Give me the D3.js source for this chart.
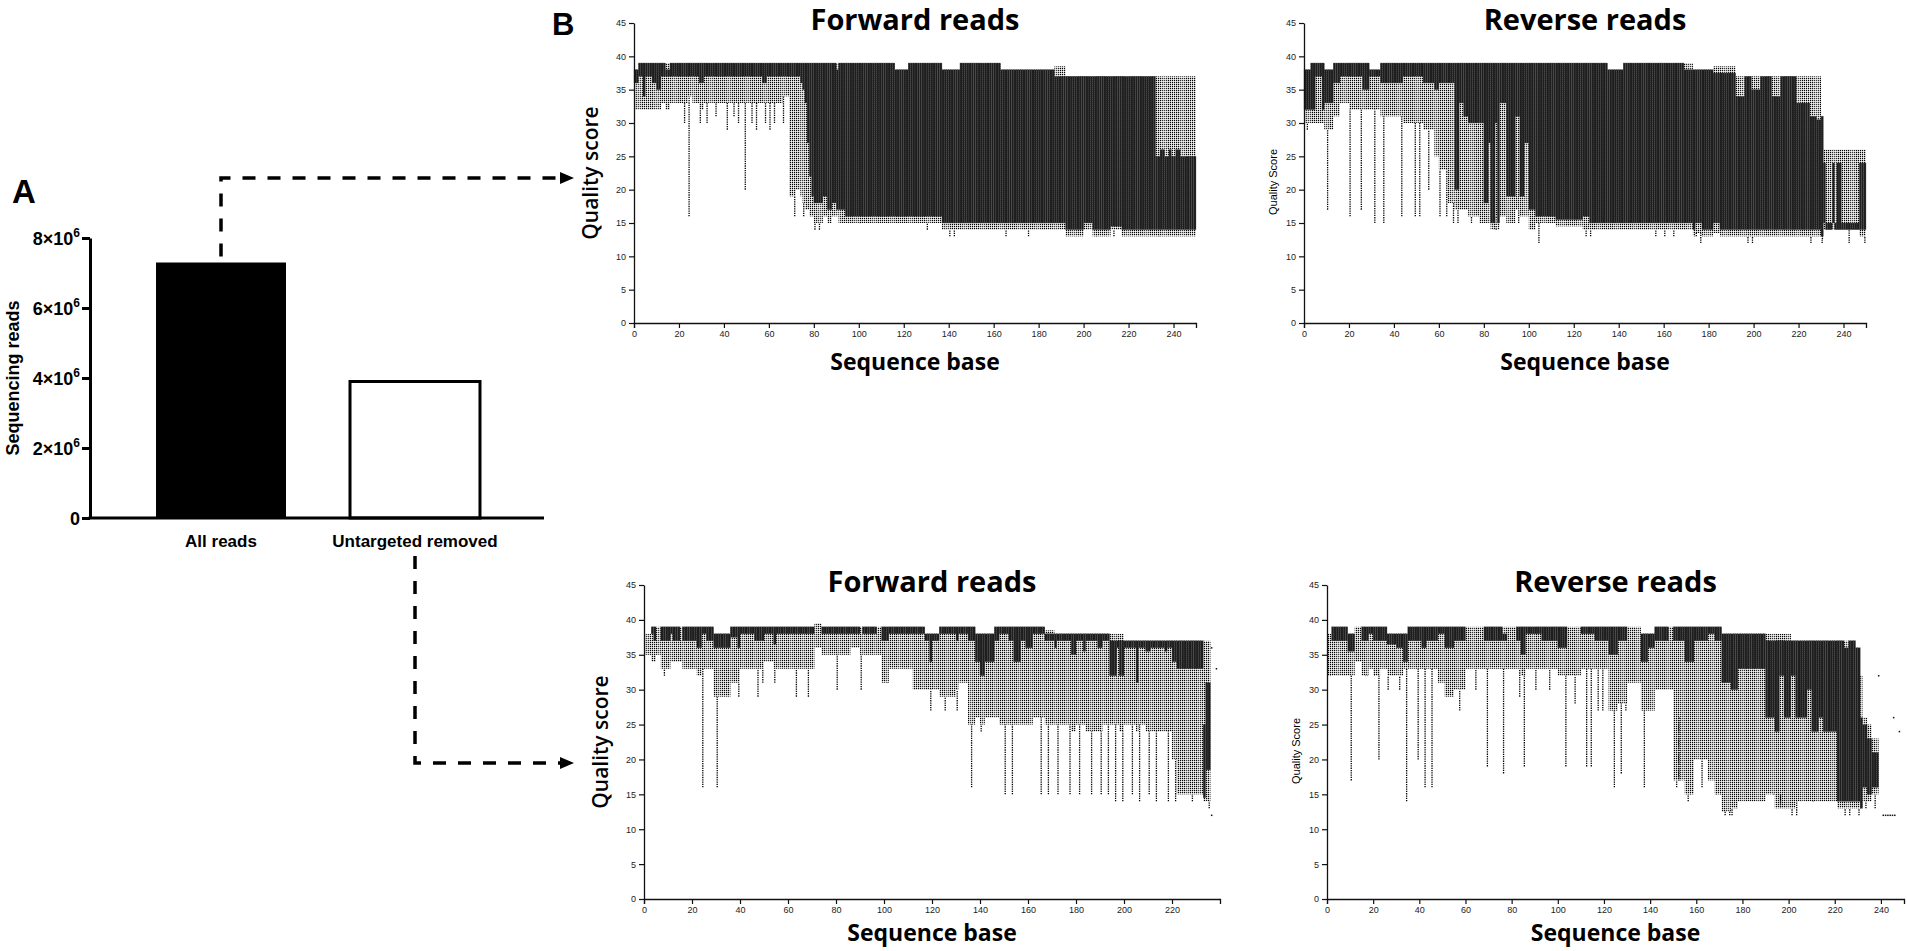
<!DOCTYPE html>
<html>
<head>
<meta charset="utf-8">
<script src="https://cdn.jsdelivr.net/npm/d3@7"></script>
<style>
  body { margin: 0; background: #fff; }
</style>
</head>
<body>
<svg id="fig" width="1907" height="951"></svg>
<script>
// ---- panel A: bar chart ----
var barCategories = ["All reads", "Untargeted removed"];
var barValues = [7.3e6, 3.9e6];
var barTicks = [0, 2e6, 4e6, 6e6, 8e6];

// ---- panel B: per-base quality plots ----
var qualTicks = [0, 5, 10, 15, 20, 25, 30, 35, 40, 45];
var baseTicks = [0, 20, 40, 60, 80, 100, 120, 140, 160, 180, 200, 220, 240];
var baseTicksShort = [0, 20, 40, 60, 80, 100, 120, 140, 160, 180, 200, 220];

// box runs: [fromBase, toBase, whiskerTop, boxTop, boxBottom, stippleBottom]
var fwdAllBoxes = [
  [0, 2, 38, 38, 36, 32], [2, 4, 39, 39, 37, 32], [4, 5, 39, 39, 34, 32], [5, 8, 39, 39, 37, 32],
  [8, 10, 39, 39, 36, 32], [10, 12, 39, 39, 35, 32], [12, 14, 39, 39, 37, 33], [14, 16, 39, 38, 37, 32],
  [16, 24, 39, 39, 37, 33], [24, 26, 39, 39, 37, 34], [26, 29, 39, 39, 37, 33], [29, 31, 39, 39, 36, 32],
  [31, 57, 39, 39, 37, 33], [57, 59, 39, 39, 36, 33], [59, 66, 39, 39, 37, 33], [66, 69, 39, 39, 37, 34],
  [69, 72, 39, 39, 37, 19], [72, 74, 39, 39, 37, 20], [74, 75, 39, 39, 36, 19], [75, 76, 39, 39, 35, 18],
  [76, 77, 39, 39, 33, 17], [77, 78, 39, 39, 27, 17], [78, 79, 39, 39, 22, 16], [79, 80, 39, 39, 19, 16],
  [80, 84, 39, 39, 18, 15], [84, 86, 39, 39, 19, 16], [86, 88, 39, 39, 17, 15], [88, 90, 39, 39, 18, 16],
  [90, 91, 39, 38, 17, 16], [91, 94, 39, 39, 17, 15], [94, 116, 39, 39, 16, 15], [116, 122, 38, 38, 16, 15],
  [122, 137, 39, 39, 16, 15], [137, 145, 38, 38, 15, 14], [145, 163, 39, 39, 15, 14], [163, 187, 38, 38, 15, 14],
  [187, 192, 38.5, 37, 15, 14], [192, 200, 37, 37, 14, 13], [200, 204, 37, 37, 15, 14], [204, 212, 37, 37, 14, 13],
  [212, 217, 37, 37, 14.5, 14], [217, 232, 37, 37, 14, 13], [232, 234, 37, 25, 14, 13], [234, 236, 37, 26, 14, 13],
  [236, 238, 37, 25, 14, 13], [238, 239, 37, 26, 14, 13], [239, 241, 37, 25, 14, 13], [241, 243, 37, 26, 14, 13],
  [243, 250, 37, 25, 14, 13]
];
// long whiskers: [base, minimum]
var fwdAllWhiskers = [
  [22, 30], [24, 16], [29, 30], [32, 30], [36, 31], [41, 29], [44, 31], [46, 30], [49, 20], [52, 30],
  [54, 29], [58, 30], [60, 29], [62, 30], [66, 30], [71, 16], [75, 16], [80, 14], [82, 14], [100, 15],
  [130, 14], [140, 13], [142, 13], [165, 13], [175, 13], [205, 13], [213, 13], [233, 13]
];
var fwdAllDots = [];

var revAllBoxes = [
  [0, 3, 38, 38, 32, 30], [3, 5, 39, 39, 32, 30], [5, 8, 39, 39, 37, 30], [8, 9, 39, 39, 32, 30],
  [9, 13, 38, 38, 33, 29], [13, 16, 39, 39, 36, 31], [16, 20, 39, 39, 37, 33], [20, 26, 39, 39, 37, 32],
  [26, 29, 39, 39, 35, 32], [29, 34, 38, 38, 37, 32], [34, 44, 39, 39, 36, 31], [44, 53, 39, 39, 37, 30],
  [53, 58, 39, 39, 36, 29], [58, 60, 39, 39, 35, 25], [60, 64, 39, 39, 36, 23], [64, 67, 39, 39, 36, 18],
  [67, 69, 39, 39, 20, 17], [69, 71, 39, 39, 33, 17], [71, 73, 39, 39, 31, 17], [73, 78, 39, 39, 30, 16],
  [78, 80, 39, 39, 30, 15], [80, 82, 39, 39, 18, 15], [82, 83, 39, 39, 27, 15], [83, 85, 39, 39, 15, 14],
  [85, 86, 39, 39, 30, 16], [86, 87, 39, 39, 15, 14], [87, 90, 39, 39, 33, 16], [90, 94, 39, 39, 19, 15],
  [94, 96, 39, 39, 31, 17], [96, 98, 39, 39, 19, 16], [98, 100, 39, 39, 27, 16], [100, 103, 39, 39, 17, 14],
  [103, 112, 39, 39, 16, 15], [112, 124, 39, 39, 15.5, 14.5], [124, 127, 39, 39, 16, 14], [127, 135, 39, 39, 15, 14],
  [135, 142, 38, 38, 15, 14], [142, 169, 39, 39, 15, 14], [169, 173, 39, 38, 15, 14], [173, 174, 38, 38, 14, 13],
  [174, 177, 38, 38, 15, 13.5], [177, 182, 38, 38, 14, 13], [182, 185, 38.5, 37.5, 15, 13.5], [185, 192, 38.5, 37.5, 14, 13],
  [192, 196, 37, 34, 14, 13], [196, 199, 37, 37, 14, 13], [199, 203, 37, 35, 14, 13], [203, 208, 37, 37, 14, 13],
  [208, 212, 37, 34, 14, 13], [212, 219, 37, 37, 14, 13], [219, 225, 37, 33, 14, 13], [225, 228, 37, 31, 14, 13],
  [228, 230, 37, 30.5, 14, 13], [230, 231, 31, 31, 13, 12.5], [231, 232, 26, 24, 15, 14], [232, 235, 26, 15, 14, 14],
  [235, 236, 26, 24, 15, 14], [236, 237, 26, 15, 14, 14], [237, 239, 26, 24, 14, 14], [239, 247, 26, 15, 14, 14],
  [247, 250, 26, 24, 14, 13]
];
var revAllWhiskers = [
  [1, 29], [10, 17], [20, 16], [25, 17], [31, 15], [35, 15], [43, 16], [49, 16], [51, 16], [55, 20],
  [60, 16], [63, 16], [66, 15], [68, 15], [74, 15], [85, 14], [95, 15], [104, 12], [125, 13], [127, 13],
  [156, 13], [160, 13], [164, 13], [174, 13], [176, 12], [197, 12], [199, 12], [225, 12], [230, 12], [242, 12], [249, 12]
];
var revAllDots = [];

var fwdUntBoxes = [
  [0, 3, 38, 38, 38, 35], [3, 4, 39, 39, 38, 34], [4, 5, 39, 39, 37, 34], [5, 7, 39, 39, 39, 35],
  [7, 11, 39, 39, 37, 33], [11, 12, 39, 39, 38, 34], [12, 15, 39, 39, 37, 34], [15, 16, 39, 39, 39, 34],
  [16, 22, 39, 39, 37, 33], [22, 24, 39, 39, 36, 32], [24, 26, 39, 39, 38, 33], [26, 29, 39, 39, 37, 33],
  [29, 36, 38, 38, 36, 29], [36, 39, 39, 39, 37.5, 31], [39, 40, 39, 39, 36, 31], [40, 46, 39, 39, 38, 33],
  [46, 50, 39, 39, 37, 33], [50, 54, 39, 39, 38, 34], [54, 55, 39, 39, 36.5, 33], [55, 71, 39, 39, 38, 33],
  [71, 74, 39.5, 39.5, 39.5, 36], [74, 86, 39, 39, 38, 35], [86, 90, 39, 39, 38, 36], [90, 91, 39, 39, 39, 35],
  [91, 97, 39, 39, 38, 35], [97, 99, 39, 39, 39, 35], [99, 102, 39, 39, 37, 31], [102, 112, 39, 39, 38, 33],
  [112, 117, 39, 39, 38, 30], [117, 119, 38, 38, 37, 30], [119, 120, 38, 38, 34, 30], [120, 123, 38, 38, 37, 30],
  [123, 130, 39, 39, 38, 29], [130, 131, 39, 39, 37, 30], [131, 135, 39, 39, 38, 31], [135, 138, 39, 39, 37, 25],
  [138, 140, 38, 38, 34, 26], [140, 142, 38, 38, 32, 25], [142, 146, 38, 38, 34, 26], [146, 148, 39, 39, 37, 26],
  [148, 152, 39, 39, 38, 25], [152, 154, 39, 39, 37, 25], [154, 157, 39, 39, 34, 25], [157, 159, 39, 39, 37, 25],
  [159, 162, 39, 39, 36, 25], [162, 167, 39, 39, 38, 26], [167, 171, 38.5, 38, 37, 25], [171, 172, 38, 38, 36, 25],
  [172, 178, 38, 38, 37, 25], [178, 180, 38, 38, 35, 24], [180, 183, 38, 38, 37, 25], [183, 184, 38, 38, 35.5, 25],
  [184, 189, 38, 38, 37, 24], [189, 191, 38, 38, 36, 24], [191, 194, 38, 38, 37, 25], [194, 197, 38, 37, 32, 25],
  [197, 198, 38, 37, 36, 25], [198, 200, 38, 37, 32, 24], [200, 205, 37, 37, 36, 25], [205, 206, 37, 37, 31, 24],
  [206, 209, 37, 37, 36, 25], [209, 211, 37, 37, 35.5, 24], [211, 217, 37, 37, 36, 24], [217, 218, 37, 37, 35.5, 24],
  [218, 220, 37, 37, 36, 24], [220, 222, 37, 37, 34, 20], [222, 233, 37, 37, 33, 15], [233, 234, 37, 25, 14.5, 14],
  [234, 236, 37, 31, 18.5, 14]
];
var fwdUntWhiskers = [
  [2, 35], [8, 32], [24, 16], [30, 16], [39, 29], [47, 29], [49, 31], [54, 31], [63, 29], [68, 29],
  [80, 30], [90, 30], [101, 31], [119, 27], [125, 27], [130, 27], [136, 16], [140, 24], [150, 15], [153, 15],
  [165, 15], [168, 15], [172, 15], [177, 15], [181, 15], [186, 15], [190, 15], [193, 15], [196, 14], [199, 14],
  [203, 15], [206, 14], [210, 15], [213, 14], [218, 14], [221, 14], [228, 14], [235, 13]
];
var fwdUntDots = [[236.5, 36], [238.5, 33], [236.5, 12]];

var revUntBoxes = [
  [0, 2, 38, 38, 38, 32], [2, 9, 39, 39, 37, 32], [9, 12, 38, 38, 35.5, 32], [12, 15, 39, 39, 39, 34],
  [15, 18, 39, 39, 37, 32], [18, 20, 39, 39, 38, 33], [20, 23, 39, 39, 37, 32], [23, 26, 39, 39, 37, 33],
  [26, 30, 38, 38, 36.5, 32], [30, 33, 38, 38, 36, 32], [33, 35, 38, 38, 34, 33], [35, 41, 39, 39, 37, 33],
  [41, 43, 39, 39, 36, 33], [43, 48, 39, 39, 37, 33], [48, 51, 39, 39, 38, 31], [51, 55, 39, 39, 36, 29],
  [55, 60, 39, 39, 37, 30], [60, 68, 39, 39, 39, 33], [68, 76, 39, 39, 37, 33], [76, 78, 39, 38, 37, 33],
  [78, 82, 39, 39, 39, 33], [82, 84, 39, 39, 37, 33], [84, 86, 39, 39, 35, 32], [86, 93, 39, 39, 38, 33],
  [93, 100, 39, 39, 37, 33], [100, 104, 39, 39, 36, 32], [104, 110, 39, 39, 39, 32], [110, 116, 39, 39, 38, 33],
  [116, 122, 39, 39, 37, 33], [122, 126, 39, 39, 35, 27], [126, 130, 39, 39, 37, 28], [130, 136, 39, 39, 39, 31],
  [136, 139, 38, 38, 34, 27], [139, 142, 38, 38, 36, 27], [142, 148, 39, 39, 37, 30], [148, 150, 39, 39, 39, 30],
  [150, 155, 39, 39, 37, 17], [155, 159, 39, 39, 34, 15], [159, 165, 39, 39, 37, 20], [165, 168, 39, 39, 38, 17],
  [168, 171, 39, 39, 37, 15], [171, 175, 38, 38, 31, 12.5], [175, 178, 38, 38, 30, 13], [178, 190, 38, 38, 33, 14],
  [190, 194, 38, 37, 26, 15], [194, 196, 38, 37, 24, 13], [196, 198, 38, 37, 32, 13], [198, 201, 38, 37, 26, 13],
  [201, 203, 37, 37, 32, 13], [203, 208, 37, 37, 26, 14], [208, 210, 37, 37, 30, 14], [210, 213, 37, 37, 24, 14],
  [213, 215, 37, 37, 26, 14], [215, 221, 37, 37, 24, 14], [221, 224, 37, 37, 14, 13], [224, 226, 37, 36, 14, 13],
  [226, 229, 37, 37, 14, 13], [229, 231, 36, 36, 14, 13], [231, 232, 32, 26, 13, 13], [232, 234, 26, 25, 16, 14],
  [234, 236, 25, 23, 15, 14], [236, 239, 23, 21, 16, 15]
];
var revUntWhiskers = [
  [1, 32], [10, 17], [16, 32], [17, 32], [20, 32], [22, 20], [26, 30], [31, 30], [34, 14], [39, 20],
  [42, 16], [45, 16], [57, 27], [64, 30], [69, 19], [76, 18], [83, 29], [85, 19], [90, 30], [96, 30],
  [103, 19], [107, 28], [112, 19], [114, 19], [117, 27], [119, 27], [124, 16], [127, 18], [129, 27], [137, 16],
  [151, 16], [152, 26], [156, 14], [157, 15], [162, 16], [168, 15], [170, 15], [172, 12], [174, 12], [175, 12],
  [193, 15], [196, 15], [201, 12], [203, 12], [210, 14], [224, 12], [226, 12], [230, 12], [233, 13], [237, 13]
];
var revUntDots = [
  [241, 12], [242, 12], [243, 12], [244, 12], [245, 12], [246, 12], [239, 32], [245.5, 26], [248, 24]
];

var svg = d3.select("#fig");
var sansBold = "'Liberation Sans', Arial, sans-serif";
var titleFont = "'Open Sans', sans-serif";

var defs = svg.append("defs");
var pat = defs.append("pattern")
    .attr("id", "stip")
    .attr("patternUnits", "userSpaceOnUse")
    .attr("width", 2)
    .attr("height", 2);
pat.append("rect").attr("width", 2).attr("height", 2).attr("fill", "#fff");
pat.append("rect").attr("width", 1.25).attr("height", 1.25).attr("fill", "#000");

// ================= A =================
var yBar = d3.scaleLinear().domain([0, 8e6]).range([518, 238]);
var xBar = d3.scaleBand().domain(barCategories).range([124, 512]).paddingInner(0.33).paddingOuter(0.165);

svg.append("text")
    .attr("x", 12).attr("y", 203)
    .attr("font-family", sansBold).attr("font-weight", "bold").attr("font-size", 33)
    .text("A");

svg.selectAll(".bar")
    .data(barValues)
    .enter().append("rect")
    .attr("x", function(d, i) { return xBar(barCategories[i]); })
    .attr("width", xBar.bandwidth())
    .attr("y", function(d) { return yBar(d); })
    .attr("height", function(d) { return yBar(0) - yBar(d); })
    .attr("fill", function(d, i) { return i === 0 ? "#000" : "#fff"; })
    .attr("stroke", "#000")
    .attr("stroke-width", function(d, i) { return i === 0 ? 0 : 3; });

var yAxisA = svg.append("g")
    .attr("transform", "translate(90,0)")
    .call(d3.axisLeft(yBar).tickValues(barTicks).tickSize(8).tickSizeOuter(0).tickFormat(""));
yAxisA.select(".domain").attr("stroke-width", 3);
yAxisA.selectAll(".tick line").attr("stroke-width", 3);
yAxisA.selectAll(".tick text").remove();
yAxisA.selectAll(".tick").each(function(d) {
    var t = d3.select(this).append("text")
        .attr("x", -10).attr("dy", "0.36em")
        .attr("text-anchor", "end")
        .attr("fill", "#000")
        .attr("font-family", sansBold).attr("font-weight", "bold").attr("font-size", 18);
    if (d === 0) {
        t.text("0");
    } else {
        t.append("tspan").text((d / 1e6) + "×10");
        t.append("tspan").attr("dy", -8).attr("font-size", 12).text("6");
    }
});

svg.append("line")
    .attr("x1", 88.5).attr("x2", 544)
    .attr("y1", yBar(0)).attr("y2", yBar(0))
    .attr("stroke", "#000").attr("stroke-width", 3);

svg.selectAll(".catlab")
    .data(barCategories)
    .enter().append("text")
    .attr("x", function(d) { return xBar(d) + xBar.bandwidth() / 2; })
    .attr("y", 547)
    .attr("text-anchor", "middle")
    .attr("font-family", sansBold).attr("font-weight", "bold").attr("font-size", 17)
    .text(function(d) { return d; });

svg.append("text")
    .attr("transform", "translate(19,378) rotate(-90)")
    .attr("text-anchor", "middle")
    .attr("font-family", sansBold).attr("font-weight", "bold").attr("font-size", 18)
    .text("Sequencing reads");

// dashed connectors
var c1x = xBar(barCategories[0]) + xBar.bandwidth() / 2;
var c2x = xBar(barCategories[1]) + xBar.bandwidth() / 2;
var arrowTip = 574;
svg.append("path")
    .attr("d", "M" + c1x + "," + (yBar(barValues[0]) - 6) + " V178 H" + (arrowTip - 12))
    .attr("fill", "none").attr("stroke", "#000").attr("stroke-width", 3.5)
    .attr("stroke-dasharray", "13,12");
svg.append("path")
    .attr("d", "M" + c2x + ",556 V763 H" + (arrowTip - 12))
    .attr("fill", "none").attr("stroke", "#000").attr("stroke-width", 3.5)
    .attr("stroke-dasharray", "13,12");
[178, 763].forEach(function(yy) {
    svg.append("path")
        .attr("d", "M" + (arrowTip - 14) + "," + (yy - 6) + " L" + arrowTip + "," + yy + " L" + (arrowTip - 14) + "," + (yy + 6) + "Z")
        .attr("fill", "#000");
});

// ================= B =================
svg.append("text")
    .attr("x", 552).attr("y", 35)
    .attr("font-family", sansBold).attr("font-weight", "bold").attr("font-size", 31)
    .text("B");

var panels = [
    { title: "Forward reads", boxes: fwdAllBoxes, whiskers: fwdAllWhiskers, dots: fwdAllDots, xlabGap: 47,
      xMax: 250, ticks: baseTicks, left: 634, right: 1196, top: 23, bottom: 323, ylab: "Quality score", big: true },
    { title: "Reverse reads", boxes: revAllBoxes, whiskers: revAllWhiskers, dots: revAllDots, xlabGap: 47,
      xMax: 250, ticks: baseTicks, left: 1304, right: 1866, top: 23, bottom: 323, ylab: "Quality Score", big: false },
    { title: "Forward reads", boxes: fwdUntBoxes, whiskers: fwdUntWhiskers, dots: fwdUntDots, xlabGap: 42,
      xMax: 240, ticks: baseTicksShort, left: 644, right: 1220, top: 585, bottom: 899, ylab: "Quality score", big: true },
    { title: "Reverse reads", boxes: revUntBoxes, whiskers: revUntWhiskers, dots: revUntDots, xlabGap: 42,
      xMax: 250, ticks: baseTicks, left: 1327, right: 1904, top: 585, bottom: 899, ylab: "Quality Score", big: false }
];

panels.forEach(function(p) {
    var g = svg.append("g");
    var x = d3.scaleLinear().domain([0, p.xMax]).range([p.left, p.right]);
    var y = d3.scaleLinear().domain([0, 45]).range([p.bottom, p.top]);
    var step = x(1) - x(0);

    var cols = [];
    var byBase = {};
    p.boxes.forEach(function(s) {
        for (var b = s[0]; b < s[1]; b++) {
            var c = { base: b, hi: s[2], boxHi: s[3], boxLo: s[4], stipLo: s[5] };
            cols.push(c);
            byBase[b] = c;
        }
    });

    // stippled whisker band
    g.selectAll(".stip")
        .data(cols)
        .enter().append("rect")
        .attr("x", function(d) { return x(d.base); })
        .attr("width", step)
        .attr("y", function(d) { return y(d.hi); })
        .attr("height", function(d) { return y(d.stipLo) - y(d.hi); })
        .attr("fill", "url(#stip)");

    // long dotted whiskers
    g.selectAll(".wh")
        .data(p.whiskers)
        .enter().append("line")
        .attr("x1", function(d) { return x(d[0] + 0.5); })
        .attr("x2", function(d) { return x(d[0] + 0.5); })
        .attr("y1", function(d) { return y(d[1]); })
        .attr("y2", function(d) { var c = byBase[d[0]]; return y(c ? c.stipLo : d[1]); })
        .attr("stroke", "#000")
        .attr("stroke-width", 1.3)
        .attr("stroke-dasharray", "1.3,1");

    // outlier dots
    g.selectAll(".dot")
        .data(p.dots)
        .enter().append("rect")
        .attr("x", function(d) { return x(d[0]) - 0.7; })
        .attr("y", function(d) { return y(d[1]) - 0.7; })
        .attr("width", 1.5).attr("height", 1.5)
        .attr("fill", "#111");

    // dark boxes
    g.selectAll(".box")
        .data(cols.filter(function(d) { return d.boxHi > d.boxLo; }))
        .enter().append("rect")
        .attr("x", function(d) { return x(d.base); })
        .attr("width", step)
        .attr("y", function(d) { return y(d.boxHi); })
        .attr("height", function(d) { return y(d.boxLo) - y(d.boxHi); })
        .attr("fill", "#1e1e1e")
        .attr("stroke", "#555")
        .attr("stroke-width", 0.3);

    // axes
    var ya = g.append("g")
        .attr("transform", "translate(" + p.left + ",0)")
        .call(d3.axisLeft(y).tickValues(qualTicks).tickSize(5).tickSizeOuter(0).tickPadding(3));
    var xa = g.append("g")
        .attr("transform", "translate(0," + p.bottom + ")")
        .call(d3.axisBottom(x).tickValues(p.ticks).tickSize(5).tickSizeOuter(5).tickPadding(3));
    [ya, xa].forEach(function(a) {
        a.select(".domain").attr("stroke", "#111").attr("stroke-width", 1.3);
        a.selectAll(".tick line").attr("stroke", "#111").attr("stroke-width", 1.2);
        a.selectAll(".tick text")
            .attr("fill", "#222")
            .attr("font-family", sansBold)
            .attr("font-size", 9);
    });

    // titles
    var cx = (p.left + p.right) / 2;
    g.append("text")
        .attr("x", cx).attr("y", p.top + 7)
        .attr("text-anchor", "middle")
        .attr("font-family", titleFont).attr("font-weight", 700).attr("font-size", 29)
        .text(p.title);
    g.append("text")
        .attr("x", cx).attr("y", p.bottom + p.xlabGap)
        .attr("text-anchor", "middle")
        .attr("font-family", titleFont).attr("font-weight", 700).attr("font-size", 23)
        .text("Sequence base");
    if (p.big) {
        g.append("text")
            .attr("transform", "translate(" + (p.left - 36) + "," + ((p.top + p.bottom) / 2) + ") rotate(-90)")
            .attr("text-anchor", "middle")
            .attr("font-family", titleFont).attr("font-weight", 600).attr("font-size", 21)
            .text(p.ylab);
    } else {
        g.append("text")
            .attr("transform", "translate(" + (p.left - 27) + "," + ((p.top + p.bottom) / 2 + 9) + ") rotate(-90)")
            .attr("text-anchor", "middle")
            .attr("font-family", sansBold).attr("font-size", 11)
            .text(p.ylab);
    }
});
</script>
</body>
</html>
